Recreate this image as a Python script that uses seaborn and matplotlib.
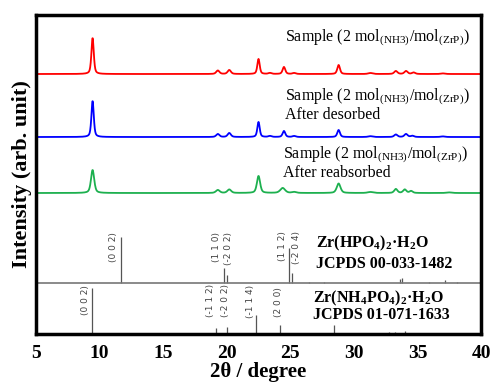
import numpy as np
import pandas as pd
import seaborn as sns
import matplotlib
matplotlib.use('Agg')
import matplotlib.pyplot as plt

# measured patterns: peak position (2theta), height, FWHM
red_pos = [9.45, 19.3, 20.2, 22.5, 23.4, 24.5, 25.3, 28.8, 31.3, 33.3, 34.1, 34.7, 37.0]
red_hgt = [36, 3.5, 4, 15, 1, 7, 1, 9, 1, 3, 3, 1.5, 0.6]
red_wid = [0.22, 0.3, 0.3, 0.22, 0.3, 0.25, 0.3, 0.25, 0.4, 0.3, 0.3, 0.3, 0.4]

blue_pos = [9.45, 19.3, 20.2, 22.5, 23.4, 24.5, 25.3, 28.8, 31.3, 33.3, 34.1, 34.6, 37.0]
blue_hgt = [36, 3, 4, 15, 1, 6, 1, 7, 0.8, 2.5, 3, 1.2, 0.6]
blue_wid = [0.22, 0.3, 0.3, 0.22, 0.3, 0.25, 0.3, 0.25, 0.4, 0.3, 0.3, 0.3, 0.4]

green_pos = [9.45, 19.3, 20.2, 22.5, 24.4, 25.3, 28.8, 31.3, 33.3, 34.0, 34.5, 37.5]
green_hgt = [23, 3, 3.5, 17, 5, 1, 9.5, 1, 4, 3.5, 2, 0.6]
green_wid = [0.3, 0.35, 0.35, 0.3, 0.45, 0.4, 0.35, 0.5, 0.3, 0.3, 0.3, 0.5]

# reference sticks
zrp_pos = [11.72, 19.77, 20.0, 24.9, 25.13, 26.5, 27.65, 33.65, 33.8, 35.9, 37.2, 38.1]
zrp_hgt = [46, 15, 8, 35, 10, 1, 1, 4, 5, 1, 3, 1]
zrp_hkl = ['(0 0 2)', '(1 1 0)', '(-2 0 2)', '(1 1 2)', '(-2 0 4)']
zrp_hkl_x = [11.1, 19.2, 20.1, 24.4, 25.45]
zrp_hkl_y = [87, 87, 86, 88, 87]

nh4_pos = [9.43, 19.14, 20.05, 22.27, 24.2, 28.4, 32.8, 33.2, 34.0]
nh4_hgt = [46, 6, 7, 19, 9, 9, 2, 2.5, 3]
nh4_hkl = ['(0 0 2)', '(-1 1 2)', '(-2 0 2)', '(-1 1 4)', '(2 0 0)']
nh4_hkl_x = [8.9, 18.75, 19.9, 21.9, 24.1]
nh4_hkl_y = [34, 34, 34, 33, 32]

offsets = {'red': 260, 'blue': 197, 'green': 141}
zrp_base = 51

tt = np.arange(5, 40.001, 0.02)


def profile(pos, hgt, wid):
    y = np.zeros_like(tt)
    for p, h, w in zip(pos, hgt, wid):
        g = np.exp(-4 * np.log(2) * ((tt - p) / w) ** 2)
        l = 1 / (1 + 4 * ((tt - p) / w) ** 2)
        y += h * (0.5 * g + 0.5 * l)
    return y


rows = []
for name, (p, h, w) in {'red': (red_pos, red_hgt, red_wid),
                        'blue': (blue_pos, blue_hgt, blue_wid),
                        'green': (green_pos, green_hgt, green_wid)}.items():
    rows.append(pd.DataFrame({'tt': tt, 'I': profile(p, h, w) + offsets[name], 'sample': name}))
df = pd.concat(rows, ignore_index=True)

sns.set_theme(style='white')
plt.rcParams['font.family'] = ['Liberation Serif', 'DejaVu Serif']
plt.rcParams['mathtext.fontset'] = 'custom'
plt.rcParams['mathtext.rm'] = 'Liberation Serif'
plt.rcParams['mathtext.bf'] = 'Liberation Serif:bold'
plt.rcParams['text.color'] = 'black'
plt.rcParams['xtick.color'] = 'black'
plt.rcParams['axes.labelcolor'] = 'black'

fig = plt.figure(figsize=(4.92, 3.86), dpi=100)
ax = fig.add_axes([0.0732, 0.1347, 0.9045, 0.8264])

sns.lineplot(data=df, x='tt', y='I', hue='sample',
             palette={'red': '#FF0000', 'blue': '#0000FF', 'green': '#1DB04F'},
             linewidth=1.3, legend=False, ax=ax)

ax.vlines(zrp_pos, zrp_base, [zrp_base + h for h in zrp_hgt], color='#555555', lw=0.9)
ax.vlines(nh4_pos, 0, nh4_hgt, color='#555555', lw=0.9)
ax.axhline(zrp_base, color='#777777', lw=1.2)

for t, x, y in zip(zrp_hkl, zrp_hkl_x, zrp_hkl_y):
    ax.text(x, y, t, rotation=90, ha='center', va='center', fontsize=6.5,
            color='#444444', family='DejaVu Sans')
for t, x, y in zip(nh4_hkl, nh4_hkl_x, nh4_hkl_y):
    ax.text(x, y, t, rotation=90, ha='center', va='center', fontsize=6.5,
            color='#444444', family='DejaVu Sans')

lab = r'Sample (2 mol$_{\mathrm{(NH3)}}$/mol$_{\mathrm{(ZrP)}}$)'
fs = 11.5
ax.text(24.6, 293, lab, fontsize=fs)
ax.text(24.6, 234, lab, fontsize=fs)
ax.text(24.6, 215, 'After desorbed', fontsize=fs)
ax.text(24.4, 176, lab, fontsize=fs)
ax.text(24.4, 157, 'After reabsorbed', fontsize=fs)

ax.text(27.0, 87, r'Zr(HPO$_{\mathbf{4}}$)$_{\mathbf{2}}$·H$_{\mathbf{2}}$O', fontsize=11.5, fontweight='bold')
ax.text(27.0, 66, 'JCPDS 00-033-1482', fontsize=11.5, fontweight='bold')
ax.text(26.8, 32, r'Zr(NH$_{\mathbf{4}}$PO$_{\mathbf{4}}$)$_{\mathbf{2}}$·H$_{\mathbf{2}}$O', fontsize=11.5, fontweight='bold')
ax.text(26.8, 15, 'JCPDS 01-071-1633', fontsize=11.5, fontweight='bold')

ax.set_xlim(5, 40)
ax.set_ylim(0, 319)
ax.set_xticks([5, 10, 15, 20, 25, 30, 35, 40])
ax.set_yticks([])
ax.tick_params(axis='x', length=0, pad=8)
for lbl in ax.get_xticklabels():
    lbl.set_fontsize(14)
    lbl.set_fontweight('bold')
for s in ax.spines.values():
    s.set_color('black')
    s.set_linewidth(2.5)
ax.set_xlabel('2θ / degree', fontsize=15, fontweight='bold', labelpad=0)
ax.set_ylabel('Intensity (arb. unit)', fontsize=16, fontweight='bold', labelpad=3)

fig.savefig('out.png', dpi=100)
